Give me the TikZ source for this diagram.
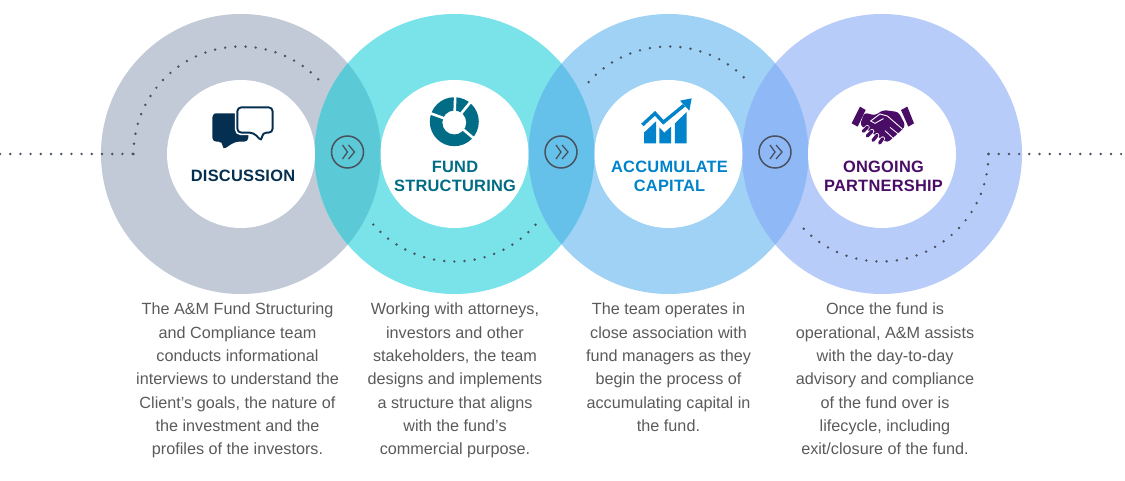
\documentclass[tikz,border=0pt]{standalone}
\usepackage{fontspec}
\setmainfont{Liberation Sans}
\newfontfamily\titlefont[LetterSpace=1.5]{Liberation Sans}
\usepackage{xcolor}
\definecolor{discGray}{HTML}{C1CAD6}
\definecolor{fundTeal}{HTML}{7AE3E9}
\definecolor{capBlue}{HTML}{9FD2F5}
\definecolor{partBlue}{HTML}{B8CCF9}
\definecolor{lensA}{HTML}{5CC9D7}
\definecolor{lensB}{HTML}{66C1EA}
\definecolor{lensC}{HTML}{8FB8F7}
\definecolor{discInk}{HTML}{042F50}
\definecolor{fundInk}{HTML}{006C85}
\definecolor{capInk}{HTML}{0083CA}
\definecolor{partInk}{HTML}{4A0D66}
\definecolor{dotInk}{HTML}{4A5260}
\definecolor{bodyInk}{HTML}{5A5A5A}
\tikzset{
	ring/.style={circle, minimum size=280pt, inner sep=0, outer sep=0},
	hole/.style={circle, fill=white, minimum size=148pt, inner sep=0, outer sep=0},
	arrowring/.style={circle, draw=dotInk, line width=1.5pt, minimum size=32pt, inner sep=0},
	chevron/.style={draw=dotInk, line width=1.3pt},
	dotline/.style={draw=dotInk, line width=2.7pt, line cap=round, dash pattern=on 0pt off 10.2pt},
	title/.style={font=\titlefont\bfseries\fontsize{16.4}{19}\selectfont, align=center, inner sep=0},
	blurb/.style={font=\fontsize{16.2}{23.3}\selectfont, text=bodyInk, align=center, anchor=north, inner sep=0},
	finger/.style={draw=white, line width=4.6pt, line cap=round, postaction={draw=partInk, line width=3.3pt}}
}

\begin{document}
\begin{tikzpicture}[x=1pt, y=-1pt]
	\useasboundingbox (0,0) rectangle (1125,481);
	% rings
	\node[ring, fill=discGray] (Disc) at (241,154) {};
	\node[ring, fill=fundTeal] (Fund) at (454.5,154) {};
	\node[ring, fill=capBlue] (Cap) at (668.5,154) {};
	\node[ring, fill=partBlue] (Part) at (882,154) {};
	% overlaps
	\begin{scope}
		\clip (Disc.center) circle[radius=140];
		\fill[lensA] (Fund.center) circle[radius=140];
	\end{scope}
	\begin{scope}
		\clip (Fund.center) circle[radius=140];
		\fill[lensB] (Cap.center) circle[radius=140];
	\end{scope}
	\begin{scope}
		\clip (Cap.center) circle[radius=140];
		\fill[lensC] (Part.center) circle[radius=140];
	\end{scope}
	\node[hole] (Disc hole) at (Disc.center) {};
	\node[hole] (Fund hole) at (Fund.center) {};
	\node[hole] (Cap hole) at (Cap.center) {};
	\node[hole] (Part hole) at (Part.center) {};
	% dotted trails
	\coordinate (Left end) at (0,154);
	\coordinate (Disc start) at (133.5,154);
	\coordinate (Part start) at (988.5,154);
	\coordinate (Right end) at (1125,154);
	\draw[dotline] (Left end) -- (Disc start);
	\draw[dotline] (Disc start) arc[start angle=180, end angle=318, radius=107.5];
	\draw[dotline] (Fund.center) ++(139:107.5) arc[start angle=139, end angle=41, radius=107.5];
	\draw[dotline] (Cap.center) ++(222:107.5) arc[start angle=222, end angle=318, radius=107.5];
	\draw[dotline] (Part start) -- (Right end);
	\draw[dotline] (Part start) arc[start angle=0, end angle=137, radius=107.5];
	% arrows
	\node[arrowring] (Step one) at (347.5,152) {};
	\node[arrowring] (Step two) at (561,152) {};
	\node[arrowring] (Step three) at (775,152) {};
	\draw[chevron] (Step one) ++(-5,-7) -- ++(5,7) -- ++(-5,7) (Step one) ++(1,-7) -- ++(6,7) -- ++(-6,7);
	\draw[chevron] (Step two) ++(-5,-7) -- ++(5,7) -- ++(-5,7) (Step two) ++(1,-7) -- ++(6,7) -- ++(-6,7);
	\draw[chevron] (Step three) ++(-5,-7) -- ++(5,7) -- ++(-5,7) (Step three) ++(1,-7) -- ++(6,7) -- ++(-6,7);
	% discussion icon
	\begin{scope}[shift={(180,80)}, x=0.3333pt, y=-0.3333pt]
		\fill[discInk, rounded corners=4pt] (112,100) -- (97,100) -- (97,185) -- (128,185) -- (128,210) -- (165,185) -- (205,185) -- (205,100) -- cycle;
		\filldraw[draw=white, fill=white, line width=3.5pt, rounded corners=4pt] (170,80) -- (280,80) -- (280,160) -- (247,160) -- (245,187) -- (222,160) -- (170,160) -- cycle;
		\draw[draw=discInk, line width=1.9pt, fill=white, rounded corners=4pt] (172,82) -- (278,82) -- (278,158) -- (247,158) -- (245,184) -- (221,158) -- (172,158) -- cycle;
	\end{scope}
	% fund icon
	\fill[fundInk, even odd rule] (454.3,121.7) circle[radius=24.5] (454.3,122.5) circle[radius=12];
	\draw[white, line width=2.6pt] (454.3,122) -- ++(-88:27) (454.3,122) -- ++(-51:27) (454.3,122) -- ++(40:27) (454.3,122) -- ++(-160:27);
	% capital icon
	\begin{scope}[shift={(610,80)}, x=0.3333pt, y=-0.3333pt]
		\fill[capInk] (102,190) -- (102,158) -- (138,124) -- (138,190) -- cycle;
		\fill[capInk] (148,190) -- (148,142) -- (163,158) -- (183,140) -- (183,190) -- cycle;
		\fill[capInk] (195,190) -- (195,130) -- (230,96) -- (230,190) -- cycle;
		\draw[capInk, line width=3.4pt] (97,135) -- (135,100) -- (160,127) -- (222,76);
		\fill[capInk] (245,55) -- (238,92) -- (210,62) -- cycle;
	\end{scope}
	% partnership icon
	\begin{scope}[shift={(830,90)}, x=0.3333pt, y=-0.3333pt]
		\fill[partInk] (65,100) -- (90,50) -- (107,60) -- (83,110) -- cycle;
		\fill[partInk] (213,60) -- (232,50) -- (252,100) -- (235,110) -- cycle;
		\fill[partInk, rounded corners=3pt] (103,68) -- (135,76) -- (160,60) -- (205,66) -- (226,105) -- (218,118) -- (172,158) -- (120,125) -- (90,105) -- cycle;
		\draw[white, line width=0.9pt, line cap=round] (122,93) -- (150,72) -- (172,78) -- (216,116);
		\draw[white, line width=0.9pt, line cap=round] (122,93) -- (135,100) -- (160,86);
		\draw[finger] (112,112) -- (100,124);
		\draw[finger] (126,124) -- (112,138);
		\draw[finger] (141,136) -- (129,151);
		\draw[finger] (158,146) -- (149,159);
		\draw[white, line width=0.8pt] (165,122) -- (192,147) (180,112) -- (205,132);
	\end{scope}
	% titles
	\node[title, text=discInk] (Disc title) at (243,176) {DISCUSSION};
	\node[title, text=fundInk] (Fund title) at (455,176.5) {FUND\\STRUCTURING};
	\node[title, text=capInk] (Cap title) at (669.5,176.5) {ACCUMULATE\\CAPITAL};
	\node[title, text=partInk] (Part title) at (883.5,176.5) {ONGOING\\PARTNERSHIP};
	% descriptions
	\node[blurb] (Disc text) at (237.5,303) {The A\&M Fund Structuring\\and Compliance team\\conducts informational\\interviews to understand the\\Client’s goals, the nature of\\the investment and the\\profiles of the investors.};
	\node[blurb] (Fund text) at (455,303) {Working with attorneys,\\investors and other\\stakeholders, the team\\designs and implements\\a structure that aligns\\with the fund’s\\commercial purpose.};
	\node[blurb] (Cap text) at (668.5,303) {The team operates in\\close association with\\fund managers as they\\begin the process of\\accumulating capital in\\the fund.};
	\node[blurb] (Part text) at (885,303) {Once the fund is\\operational, A\&M assists\\with the day-to-day\\advisory and compliance\\of the fund over is\\lifecycle, including\\exit/closure of the fund.};
\end{tikzpicture}
\end{document}
